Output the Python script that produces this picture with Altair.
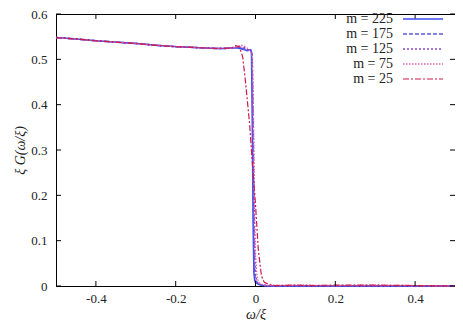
import altair as alt
import pandas as pd

# ---------------- data ----------------
labels = ["m = 225", "m = 175", "m = 125", "m = 75", "m = 25"]
colors = ["#3f4fee", "#5a5ae0", "#8a46c8", "#e062a6", "#d0184a"]
dashes = [[1, 0], [4, 2], [2, 2], [1.5, 1.5], [6, 2, 2, 2]]
widths = [1.6, 1.2, 1.2, 1.2, 1.2]

# common flat part (omega, value)
flat_w = [-0.5, -0.45, -0.4, -0.35, -0.3, -0.25, -0.2, -0.15, -0.1, -0.08, -0.06]
flat_v = [0.548, 0.545, 0.541, 0.538, 0.535, 0.531, 0.528, 0.526, 0.524, 0.524, 0.525]

w225 = [-0.045, -0.03, -0.02, -0.013, -0.010, -0.008, -0.006, -0.004, -0.002, 0.0, 0.005, 0.01, 0.02, 0.04, 0.1, 0.3, 0.5]
v225 = [0.525, 0.522, 0.519, 0.521, 0.515, 0.36, 0.14, 0.03, 0.012, 0.008, 0.005, 0.003, 0.001, 0.0, 0.0, 0.0, 0.0]

w175 = [-0.045, -0.03, -0.02, -0.012, -0.009, -0.007, -0.005, -0.003, -0.001, 0.002, 0.006, 0.012, 0.02, 0.04, 0.1, 0.3, 0.5]
v175 = [0.526, 0.524, 0.520, 0.521, 0.512, 0.38, 0.17, 0.05, 0.016, 0.009, 0.005, 0.003, 0.001, 0.0, 0.0, 0.0, 0.0]

w125 = [-0.045, -0.03, -0.02, -0.011, -0.008, -0.006, -0.004, -0.002, 0.0, 0.003, 0.007, 0.014, 0.025, 0.05, 0.1, 0.3, 0.5]
v125 = [0.527, 0.527, 0.522, 0.520, 0.510, 0.40, 0.22, 0.08, 0.025, 0.012, 0.006, 0.003, 0.001, 0.0, 0.0, 0.0, 0.0]

w75 = [-0.045, -0.035, -0.025, -0.015, -0.009, -0.006, -0.004, -0.002, 0.0, 0.003, 0.006, 0.01, 0.02, 0.035, 0.1, 0.2, 0.3, 0.4, 0.5]
v75 = [0.529, 0.531, 0.528, 0.520, 0.512, 0.44, 0.30, 0.16, 0.07, 0.03, 0.014, 0.006, 0.002, 0.001, 0.002, 0.001, 0.002, 0.001, 0.0]

w25 = [-0.05, -0.04, -0.032, -0.025, -0.015, -0.007, 0.0, 0.007, 0.015, 0.022, 0.035, 0.05, 0.1, 0.15, 0.2, 0.3, 0.4, 0.5]
v25 = [0.530, 0.528, 0.505, 0.45, 0.36, 0.26, 0.18, 0.08, 0.022, 0.008, 0.003, 0.001, 0.002, 0.001, 0.002, 0.002, 0.001, 0.0]

series_w = [w225, w175, w125, w75, w25]
series_v = [v225, v175, v125, v75, v25]

x_ticks = [-0.4, -0.2, 0.0, 0.2, 0.4]
y_ticks = [0.0, 0.1, 0.2, 0.3, 0.4, 0.5, 0.6]

# ---------------- build tables ----------------
rows = []
for lab, ws, vs in zip(labels, series_w, series_v):
    for i, (w, v) in enumerate(zip(flat_w + ws, flat_v + vs)):
        rows.append({"label": lab, "omega": w, "G": v, "order": i})
df = pd.DataFrame(rows)
leg = pd.DataFrame({"label": labels})
xt = pd.DataFrame({"t": x_ticks})
yt = pd.DataFrame({"t": y_ticks})

W, H = 399, 272
FONT = "Liberation Serif, Times New Roman, serif"

xscale = alt.Scale(domain=[-0.5, 0.5], nice=False, zero=False)
yscale = alt.Scale(domain=[0, 0.6], nice=False, zero=False)
cscale = alt.Scale(domain=labels, range=colors)
dscale = alt.Scale(domain=labels, range=dashes)
wscale = alt.Scale(domain=labels, range=widths)

lines = alt.Chart(df).mark_line().encode(
    x=alt.X("omega:Q", scale=xscale,
            axis=alt.Axis(values=x_ticks, labelExpr="'' + datum.value",
                          title="ω/ξ", grid=False, ticks=False)),
    y=alt.Y("G:Q", scale=yscale,
            axis=alt.Axis(values=y_ticks, labelExpr="'' + datum.value",
                          title="ξ G(ω/ξ)", grid=False, ticks=False,
                          titleX=-36, titleY=H / 2, titleAlign="center",
                          titleBaseline="middle", titleAngle=270)),
    color=alt.Color("label:N", scale=cscale, legend=None),
    strokeDash=alt.StrokeDash("label:N", scale=dscale, legend=None),
    strokeWidth=alt.StrokeWidth("label:N", scale=wscale, legend=None),
    order="order:Q",
    detail="label:N",
)

tk = 5
xb = alt.Chart(xt).mark_rule(color="black").encode(
    x=alt.X("t:Q", scale=xscale), y=alt.value(H), y2=alt.value(H - tk))
xtop = alt.Chart(xt).mark_rule(color="black").encode(
    x=alt.X("t:Q", scale=xscale), y=alt.value(0), y2=alt.value(tk))
yl = alt.Chart(yt).mark_rule(color="black").encode(
    y=alt.Y("t:Q", scale=yscale), x=alt.value(0), x2=alt.value(tk))
yr = alt.Chart(yt).mark_rule(color="black").encode(
    y=alt.Y("t:Q", scale=yscale), x=alt.value(W - tk), x2=alt.value(W))

main = alt.layer(lines, xb, xtop, yl, yr)

legy = alt.Y("label:N", sort=labels, axis=None,
             scale=alt.Scale(type="point", domain=labels, range=[5, 65],
                             padding=0))
leg_lines = alt.Chart(leg).mark_rule().encode(
    y=legy, x=alt.value(347), x2=alt.value(387),
    color=alt.Color("label:N", scale=cscale, legend=None),
    strokeDash=alt.StrokeDash("label:N", scale=dscale, legend=None),
    strokeWidth=alt.StrokeWidth("label:N", scale=wscale, legend=None),
)
leg_text = alt.Chart(leg).mark_text(align="right", baseline="middle", font=FONT,
                                     fontSize=14, color="#222").encode(
    y=legy, x=alt.value(337),
    text=alt.Text("label:N"),
)
legend = alt.layer(leg_lines, leg_text)

chart = alt.layer(main, legend).resolve_scale(y="independent").properties(
    width=W, height=H,
    autosize=alt.AutoSizeParams(type="none"),
    padding={"left": 48, "top": 6, "right": 0, "bottom": 34},
).configure_view(stroke="black", strokeWidth=1).configure_axis(
    domainColor="black", labelFont=FONT, labelFontSize=13, labelColor="#222",
    titleFont=FONT, titleFontSize=14, titleFontStyle="italic", titleFontWeight="normal",
    titleColor="#222",
).configure_axisX(labelPadding=6, titlePadding=2).configure_axisY(
    labelPadding=9)

chart.save("out.html", embed_options={"renderer": "svg", "actions": False})
